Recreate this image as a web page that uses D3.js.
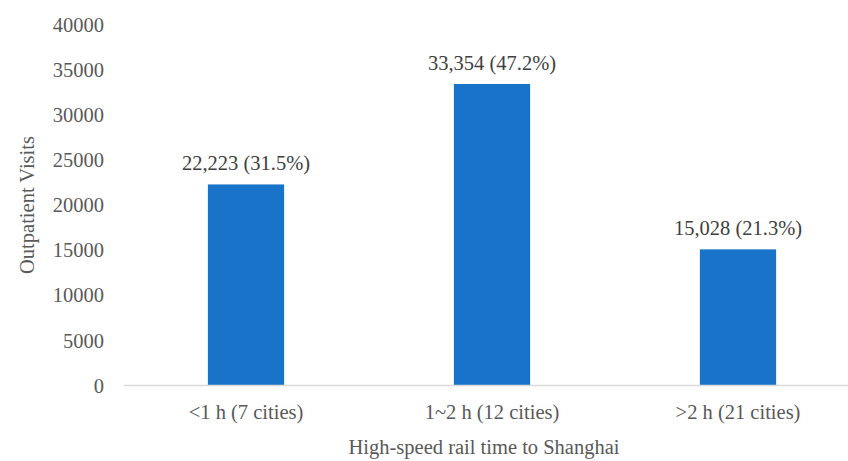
<!DOCTYPE html>
<html>
<head>
<meta charset="utf-8">
<script src="https://cdn.jsdelivr.net/npm/d3@7"></script>
<style>
  body { margin: 0; background: #fff; }
</style>
</head>
<body>
<svg id="chart"></svg>
<script>
var width = 848;
var height = 461;
var serif = "'Liberation Serif', 'Times New Roman', Times, 'DejaVu Serif', serif";
var fs = "20.5px";

var categories = ["<1 h (7 cities)", "1~2 h (12 cities)", ">2 h (21 cities)"];
var visits = [22223, 33354, 15028];
var labels = ["22,223 (31.5%)", "33,354 (47.2%)", "15,028 (21.3%)"];
var yTicks = [0, 5000, 10000, 15000, 20000, 25000, 30000, 35000, 40000];

var svg = d3.select("#chart")
    .attr("width", width)
    .attr("height", height)
    .style("font-family", serif);

// scales
var x = d3.scaleBand()
    .domain(categories)
    .range([123, 861])
    .paddingInner(0.69)
    .paddingOuter(0.345);

var y = d3.scaleLinear()
    .domain([0, 40000])
    .range([385, 24]);

// y axis (labels only)
var yAxis = d3.axisLeft(y).tickValues(yTicks).tickSize(0).tickPadding(0).tickFormat(d3.format("d"));
var gy = svg.append("g")
    .attr("transform", "translate(104,0)")
    .call(yAxis);
gy.attr("font-family", null).attr("font-size", null);
gy.select(".domain").remove();
gy.selectAll("text")
    .style("font-family", serif)
    .style("font-size", fs)
    .style("fill", "#595959")
    .attr("dy", "0.35em");

// bars
svg.selectAll(".bar")
    .data(visits)
    .enter().append("rect")
    .attr("class", "bar")
    .attr("x", function (d, i) { return x(categories[i]); })
    .attr("width", x.bandwidth())
    .attr("y", function (d) { return y(d); })
    .attr("height", function (d) { return y(0) - y(d); })
    .attr("fill", "#1973c8");

// x axis
var xAxis = d3.axisBottom(x).tickSize(0).tickPadding(0);
var gx = svg.append("g")
    .attr("transform", "translate(0," + y(0) + ")")
    .call(xAxis);
gx.attr("font-family", null).attr("font-size", null);
gx.select(".domain").attr("stroke", "#d9d9d9").attr("stroke-width", 1.5);
gx.selectAll("text")
    .style("font-family", serif)
    .style("font-size", fs)
    .style("fill", "#595959")
    .attr("y", 34).attr("dy", "0");

// value labels
svg.selectAll(".vlabel")
    .data(visits)
    .enter().append("text")
    .attr("class", "vlabel")
    .attr("x", function (d, i) { return x(categories[i]) + x.bandwidth() / 2; })
    .attr("y", function (d) { return y(d) - 14; })
    .attr("text-anchor", "middle")
    .style("font-family", serif)
    .style("font-size", fs)
    .style("fill", "#404040")
    .text(function (d, i) { return labels[i]; });

// axis titles
svg.append("text")
    .text("High-speed rail time to Shanghai")
    .attr("x", 484)
    .attr("y", 454)
    .attr("text-anchor", "middle")
    .style("font-family", serif)
    .style("font-size", fs)
    .style("fill", "#595959");

svg.append("text")
    .text("Outpatient Visits")
    .attr("transform", "translate(34,205) rotate(-90)")
    .attr("text-anchor", "middle")
    .style("font-family", serif)
    .style("font-size", fs)
    .style("fill", "#595959");
</script>
</body>
</html>
